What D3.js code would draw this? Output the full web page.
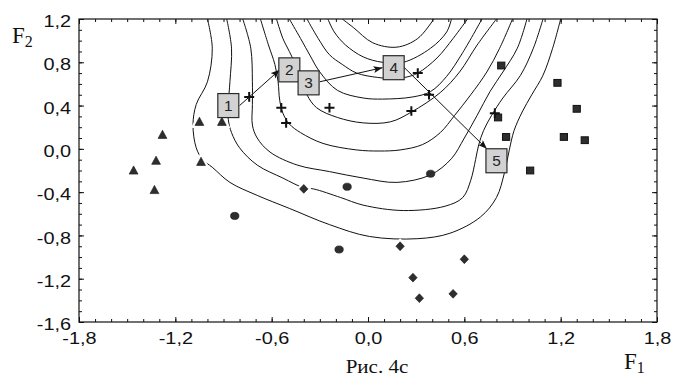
<!DOCTYPE html>
<html>
<head>
<meta charset="utf-8">
<script src="https://cdn.jsdelivr.net/npm/d3@7/dist/d3.min.js"></script>
<style>
  body { margin: 0; background: #fff; }
  svg { display: block; }
</style>
</head>
<body>
<svg id="chart" width="673" height="376"></svg>
<script>
// scatter groups (F1, F2)
const triangles = [[-1.05, 0.25], [-0.91, 0.25], [-1.28, 0.13], [-1.32, -0.11], [-1.04, -0.12], [-1.46, -0.20], [-1.33, -0.38]];
const circles = [[-0.83, -0.62], [-0.13, -0.35], [-0.18, -0.93], [0.39, -0.23]];
const diamonds = [[-0.40, -0.37], [0.20, -0.90], [0.28, -1.19], [0.32, -1.38], [0.53, -1.34], [0.60, -1.02]];
const squares = [[0.83, 0.77], [1.18, 0.61], [1.30, 0.37], [0.81, 0.29], [0.86, 0.11], [1.22, 0.11], [1.35, 0.08], [1.01, -0.20]];
const crosses = [[-0.74, 0.48], [-0.54, 0.38], [-0.51, 0.24], [-0.24, 0.38], [0.31, 0.70], [0.38, 0.50], [0.27, 0.35], [0.79, 0.33]];

// numbered boxes and the arrows between them
const boxLabels = ["1", "2", "3", "4", "5"];
const boxF1 = [-0.87, -0.49, -0.37, 0.16, 0.80];
const boxF2 = [0.40, 0.73, 0.61, 0.75, -0.11];
const arrows = [[-0.80, 0.40, -0.55, 0.73], [-0.30, 0.62, 0.09, 0.75], [0.22, 0.76, 0.74, 0.00]];

// contour lines
const contour1 = [[-0.16,1.20],[-0.09,1.12],[0.03,0.98],[0.18,0.94],[0.31,1.02],[0.41,1.20]];
const contour2 = [[-0.25,1.20],[-0.21,1.08],[-0.14,0.96],[-0.03,0.85],[0.09,0.80],[0.22,0.80],[0.39,0.93],[0.49,1.08],[0.52,1.20]];
const contour3 = [[-0.38,1.20],[-0.31,1.02],[-0.24,0.87],[-0.16,0.78],[-0.07,0.70],[0.06,0.66],[0.17,0.65],[0.23,0.66],[0.31,0.70],[0.43,0.84],[0.53,1.02],[0.62,1.20]];
const contour4 = [[-0.49,1.20],[-0.42,1.02],[-0.36,0.86],[-0.30,0.71],[-0.19,0.54],[-0.03,0.47],[0.09,0.46],[0.28,0.48],[0.39,0.53],[0.49,0.67],[0.59,0.89],[0.71,1.20]];
const contour5 = [[-0.57,1.20],[-0.53,1.02],[-0.49,0.90],[-0.42,0.68],[-0.38,0.50],[-0.32,0.38],[-0.19,0.29],[-0.03,0.24],[0.14,0.25],[0.27,0.34],[0.45,0.52],[0.57,0.71],[0.68,0.96],[0.80,1.20]];
const contour6 = [[-0.67,1.20],[-0.62,0.96],[-0.58,0.78],[-0.56,0.62],[-0.55,0.45],[-0.53,0.33],[-0.49,0.23],[-0.42,0.15],[-0.28,0.05],[-0.07,-0.01],[0.07,-0.02],[0.20,-0.01],[0.34,0.04],[0.45,0.15],[0.54,0.31],[0.64,0.50],[0.74,0.71],[0.82,0.93],[0.90,1.20]];
const contour7 = [[-0.78,1.20],[-0.73,0.93],[-0.72,0.62],[-0.72,0.41],[-0.72,0.22],[-0.69,0.10],[-0.61,-0.03],[-0.44,-0.15],[-0.24,-0.21],[-0.03,-0.27],[0.18,-0.31],[0.39,-0.24],[0.52,-0.09],[0.60,0.10],[0.68,0.31],[0.76,0.53],[0.84,0.71],[0.93,0.93],[0.99,1.20]];
const contour8 = [[-0.88,1.20],[-0.85,0.93],[-0.86,0.62],[-0.87,0.41],[-0.87,0.27],[-0.85,0.15],[-0.80,0.01],[-0.69,-0.15],[-0.53,-0.27],[-0.40,-0.36],[-0.34,-0.37],[-0.17,-0.45],[-0.03,-0.52],[0.22,-0.57],[0.48,-0.53],[0.59,-0.45],[0.64,-0.29],[0.67,-0.10],[0.69,0.04],[0.72,0.17],[0.77,0.31],[0.84,0.47],[0.95,0.68],[1.03,0.93],[1.09,1.20]];
const contour9 = [[-1.00,1.20],[-0.97,0.93],[-1.00,0.62],[-1.07,0.41],[-1.09,0.22],[-1.07,0.01],[-1.03,-0.10],[-0.97,-0.17],[-0.86,-0.31],[-0.69,-0.43],[-0.49,-0.55],[-0.24,-0.70],[0.01,-0.81],[0.31,-0.83],[0.51,-0.78],[0.70,-0.63],[0.80,-0.45],[0.85,-0.22],[0.88,-0.01],[0.91,0.17],[0.96,0.34],[1.02,0.50],[1.09,0.68],[1.15,0.93],[1.20,1.20]];
const contours = [contour1, contour2, contour3, contour4, contour5, contour6, contour7, contour8, contour9];

// ticks
const xMajor = [-1.8, -1.2, -0.6, 0.0, 0.6, 1.2, 1.8];
const yMajor = [-1.6, -1.2, -0.8, -0.4, 0.0, 0.4, 0.8, 1.2];

const svg = d3.select("#chart");
const plotLeft = 79, plotRight = 657, plotTop = 19, plotBottom = 322;

const x = d3.scaleLinear().domain([-1.8, 1.8]).range([plotLeft, plotRight]);
const y = d3.scaleLinear().domain([-1.6, 1.2]).range([plotBottom, plotTop]);

const xMinor = d3.range(-18, 19).map((i) => i / 10);
const yMinor = d3.range(-16, 13).map((i) => i / 10);

const locale = d3.formatLocale({decimal: ",", thousands: " ", grouping: [3], currency: ["", ""], minus: "-"});
const fmt = locale.format(".1f");
const stretch = 1.17;

svg.append("rect").attr("width", 673).attr("height", 376).attr("fill", "#fff");

const defs = svg.append("defs");
defs.append("clipPath")
  .attr("id", "plot-clip")
  .append("rect")
  .attr("x", plotLeft).attr("y", plotTop)
  .attr("width", plotRight - plotLeft).attr("height", plotBottom - plotTop);

defs.append("marker")
  .attr("id", "arrowhead")
  .attr("markerUnits", "userSpaceOnUse")
  .attr("markerWidth", 10)
  .attr("markerHeight", 8)
  .attr("refX", 9)
  .attr("refY", 3.5)
  .attr("orient", "auto")
  .append("path")
  .attr("d", "M0,0 L9,3.5 L0,7 L2,3.5 Z")
  .attr("fill", "#111");

// contours
const line = d3.line()
  .x((d) => x(d[0]))
  .y((d) => y(d[1]))
  .curve(d3.curveCatmullRom.alpha(0.5));

svg.append("g")
  .attr("clip-path", "url(#plot-clip)")
  .selectAll("path")
  .data(contours)
  .enter()
  .append("path")
  .attr("d", line)
  .attr("fill", "none")
  .attr("stroke", "#111")
  .attr("stroke-width", 1);

// axes: inward ticks on all four sides
function drawAxis(axis, tx, ty) {
  const g = svg.append("g").attr("transform", `translate(${tx},${ty})`).call(axis);
  g.select(".domain").remove();
  g.selectAll(".tick line").attr("stroke", "#111");
  return g;
}
drawAxis(d3.axisBottom(x).tickValues(xMinor).tickSize(-3).tickFormat(""), 0, plotBottom);
drawAxis(d3.axisTop(x).tickValues(xMinor).tickSize(-3).tickFormat(""), 0, plotTop);
drawAxis(d3.axisLeft(y).tickValues(yMinor).tickSize(-3).tickFormat(""), plotLeft, 0);
drawAxis(d3.axisRight(y).tickValues(yMinor).tickSize(-3).tickFormat(""), plotRight, 0);
drawAxis(d3.axisTop(x).tickValues(xMajor).tickSize(-5).tickFormat(""), 0, plotTop);
drawAxis(d3.axisRight(y).tickValues(yMajor).tickSize(-5).tickFormat(""), plotRight, 0);

const xAxis = drawAxis(d3.axisBottom(x).tickValues(xMajor).tickSize(-5).tickPadding(10).tickFormat(fmt), 0, plotBottom);
const yAxis = drawAxis(d3.axisLeft(y).tickValues(yMajor).tickSize(-5).tickPadding(6.8).tickFormat(fmt), plotLeft, 0);

[xAxis, yAxis].forEach((g) => {
  g.attr("font-family", null).attr("font-size", null);
  g.selectAll("text")
    .attr("fill", "#111")
    .style("font-family", "'Liberation Sans', Arial, sans-serif")
    .style("font-size", "17px")
    .attr("transform", `scale(${stretch},1)`);
});
yAxis.selectAll("text").attr("dy", "0.45em");

svg.append("rect")
  .attr("x", plotLeft).attr("y", plotTop)
  .attr("width", plotRight - plotLeft).attr("height", plotBottom - plotTop)
  .attr("fill", "none")
  .attr("stroke", "#111")
  .attr("stroke-width", 1.2);

// arrows
svg.append("g")
  .selectAll("line")
  .data(arrows)
  .enter()
  .append("line")
  .attr("x1", (d) => x(d[0]))
  .attr("y1", (d) => y(d[1]))
  .attr("x2", (d) => x(d[2]))
  .attr("y2", (d) => y(d[3]))
  .attr("stroke", "#111")
  .attr("stroke-width", 1)
  .attr("marker-end", "url(#arrowhead)");

// markers
const markerFill = "#2e2e2e";
const markers = svg.append("g");
const triPath = "M0,-4.6 L4.4,3.6 L-4.4,3.6 Z";
const diaPath = "M0,-4.4 L4.2,0 L0,4.4 L-4.2,0 Z";

// white halo under triangles and diamonds, the contours break around them
markers.selectAll(".halo-tri").data(triangles).enter()
  .append("path")
  .attr("transform", (d) => `translate(${x(d[0])},${y(d[1])})`)
  .attr("d", triPath)
  .attr("fill", "#fff")
  .attr("stroke", "#fff")
  .attr("stroke-width", 5);
markers.selectAll(".halo-dia").data(diamonds).enter()
  .append("path")
  .attr("transform", (d) => `translate(${x(d[0])},${y(d[1])})`)
  .attr("d", diaPath)
  .attr("fill", "#fff")
  .attr("stroke", "#fff")
  .attr("stroke-width", 5);

markers.selectAll(".tri").data(triangles).enter()
  .append("path")
  .attr("class", "tri")
  .attr("transform", (d) => `translate(${x(d[0])},${y(d[1])})`)
  .attr("d", triPath)
  .attr("fill", markerFill)
  .attr("stroke", "#111")
  .attr("stroke-width", 0.6);

markers.selectAll(".circ").data(circles).enter()
  .append("ellipse")
  .attr("class", "circ")
  .attr("cx", (d) => x(d[0]))
  .attr("cy", (d) => y(d[1]))
  .attr("rx", 4.2)
  .attr("ry", 3.6)
  .attr("fill", markerFill)
  .attr("stroke", "#111")
  .attr("stroke-width", 0.6);

markers.selectAll(".dia").data(diamonds).enter()
  .append("path")
  .attr("class", "dia")
  .attr("transform", (d) => `translate(${x(d[0])},${y(d[1])})`)
  .attr("d", diaPath)
  .attr("fill", markerFill)
  .attr("stroke", "#111")
  .attr("stroke-width", 0.6);

markers.selectAll(".sq").data(squares).enter()
  .append("rect")
  .attr("class", "sq")
  .attr("x", (d) => x(d[0]) - 3.6)
  .attr("y", (d) => y(d[1]) - 3.4)
  .attr("width", 7.2)
  .attr("height", 6.8)
  .attr("fill", markerFill)
  .attr("stroke", "#111")
  .attr("stroke-width", 1);

markers.selectAll(".cross").data(crosses).enter()
  .append("path")
  .attr("class", "cross")
  .attr("transform", (d) => `translate(${x(d[0])},${y(d[1])})`)
  .attr("d", "M-5,0 H5 M0,-4.8 V4.8")
  .attr("stroke", "#111")
  .attr("stroke-width", 2);

// numbered boxes
const boxes = svg.append("g")
  .selectAll("g")
  .data(boxLabels)
  .enter()
  .append("g")
  .attr("transform", (d, i) => `translate(${x(boxF1[i])},${y(boxF2[i])})`);

boxes.append("rect")
  .attr("x", -10.5).attr("y", -12)
  .attr("width", 21).attr("height", 24)
  .attr("fill", "#d2d2d2")
  .attr("stroke", "#2a2a2a")
  .attr("stroke-width", 1.2);

boxes.append("text")
  .text((d) => d)
  .attr("text-anchor", "middle")
  .attr("y", 5)
  .attr("transform", "scale(1.1,1)")
  .style("font-family", "'Liberation Sans', Arial, sans-serif")
  .style("font-size", "14px")
  .attr("fill", "#222");

// axis titles and caption
const f2 = svg.append("text")
  .attr("x", 12).attr("y", 42.5)
  .style("font-family", "'Liberation Serif', 'Times New Roman', serif")
  .style("font-size", "23px")
  .attr("fill", "#111");
f2.append("tspan").text("F");
f2.append("tspan").text("2").style("font-size", "16px").attr("dy", 4);

const f1 = svg.append("text")
  .attr("x", 624).attr("y", 369)
  .style("font-family", "'Liberation Serif', 'Times New Roman', serif")
  .style("font-size", "23px")
  .attr("fill", "#111");
f1.append("tspan").text("F");
f1.append("tspan").text("1").style("font-size", "16px").attr("dy", 4);

svg.append("text")
  .attr("transform", `translate(377,373) scale(${stretch},1)`)
  .attr("text-anchor", "middle")
  .style("font-family", "'Liberation Serif', 'Times New Roman', serif")
  .style("font-size", "18px")
  .attr("fill", "#111")
  .text("Рис. 4с");
</script>
</body>
</html>
